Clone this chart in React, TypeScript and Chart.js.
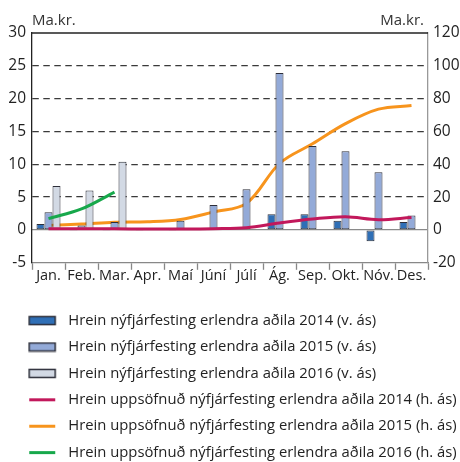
import React, { useEffect, useRef } from "react";
import { Chart, registerables } from "chart.js";

Chart.register(...registerables);

const months = ["Jan.", "Feb.", "Mar.", "Apr.", "Maí", "Júní", "Júlí", "Ág.", "Sep.", "Okt.", "Nóv.", "Des."];
const net2014 = [0.9, -0.1, -0.1, -0.1, -0.1, 0.1, 0.3, 2.4, 2.4, 1.4, -1.7, 1.2];
const net2015 = [2.7, 0.7, 1.2, 0.2, 1.4, 3.8, 6.2, 23.9, 12.8, 12.0, 8.8, 2.2];
const net2016 = [6.7, 6.0, 10.4, null, null, null, null, null, null, null, null, null];
const cum2014 = [0.8, 0.8, 0.7, 0.6, 0.6, 0.8, 1.4, 4.3, 6.7, 8.1, 6.3, 7.6];
const cum2015 = [2.8, 3.6, 4.7, 5.0, 6.4, 11.0, 16.2, 40.5, 52.5, 64.8, 73.6, 75.8];
const cum2016 = [6.9, 12.8, 23.1, null, null, null, null, null, null, null, null, null];
const leftTicks = { min: -5, max: 30, step: 5 };
const rightTicks = { min: -20, max: 120, step: 20 };
const unitLabel = "Ma.kr.";
const labels = [
  "Hrein nýfjárfesting erlendra aðila 2014 (v. ás)",
  "Hrein nýfjárfesting erlendra aðila 2015 (v. ás)",
  "Hrein nýfjárfesting erlendra aðila 2016 (v. ás)",
  "Hrein uppsöfnuð nýfjárfesting erlendra aðila 2014 (h. ás)",
  "Hrein uppsöfnuð nýfjárfesting erlendra aðila 2015 (h. ás)",
  "Hrein uppsöfnuð nýfjárfesting erlendra aðila 2016 (h. ás)",
];

const FONT = "'Open Sans', sans-serif";
const TEXT = "#222";
const BAR_BORDER = "#2d2f3a";

function makeIcon(kind: "bar" | "line", color: string): HTMLCanvasElement {
  const c = document.createElement("canvas");
  c.width = 50;
  c.height = 11;
  const g = c.getContext("2d")!;
  if (kind === "bar") {
    g.fillStyle = color;
    g.fillRect(18, 1.5, 26, 8);
    g.strokeStyle = BAR_BORDER;
    g.lineWidth = 1.5;
    g.strokeRect(18, 1.5, 26, 8);
  } else {
    g.strokeStyle = color;
    g.lineWidth = 3;
    g.beginPath();
    g.moveTo(18, 5.5);
    g.lineTo(44, 5.5);
    g.stroke();
  }
  return c;
}

const framePlugin = {
  id: "frame",
  beforeDatasetsDraw(chart: any) {
    const { ctx, chartArea } = chart;
    ctx.save();
    ctx.strokeStyle = "#222";
    ctx.lineWidth = 1.3;
    ctx.beginPath();
    ctx.moveTo(chartArea.left, chartArea.top);
    ctx.lineTo(chartArea.right, chartArea.top);
    ctx.stroke();
    ctx.restore();
  },
  afterDraw(chart: any) {
    const { ctx, chartArea } = chart;
    ctx.save();
    ctx.font = `15px ${FONT}`;
    ctx.fillStyle = "#333";
    ctx.textBaseline = "middle";
    ctx.textAlign = "left";
    ctx.fillText(unitLabel, chartArea.left, 21);
    ctx.textAlign = "right";
    ctx.fillText(unitLabel, chartArea.right - 4, 21);
    ctx.restore();
  },
};

export default function App() {
  const ref = useRef<HTMLCanvasElement>(null);
  useEffect(() => {
    const barColors = ["#2f6fb6", "#93aad8", "#d2d9e4"];
    const lineColors = ["#c2185b", "#f7941d", "#17a84b"];
    const bar = (i: number, data: (number | null)[]) => ({
      type: "bar" as const,
      label: labels[i],
      data,
      backgroundColor: barColors[i],
      borderColor: BAR_BORDER,
      borderWidth: 1,
      borderSkipped: false,
      categoryPercentage: 0.727,
      barPercentage: 1.0,
      yAxisID: "y",
      order: 1,
    });
    const line = (i: number, data: (number | null)[], order: number) => ({
      type: "line" as const,
      label: labels[i + 3],
      data,
      borderColor: lineColors[i],
      backgroundColor: lineColors[i],
      borderWidth: 3,
      pointRadius: 0,
      tension: 0.35,
      fill: false,
      yAxisID: "y1",
      order,
    });
    const icons = [
      makeIcon("bar", barColors[0]),
      makeIcon("bar", barColors[1]),
      makeIcon("bar", barColors[2]),
      makeIcon("line", lineColors[0]),
      makeIcon("line", lineColors[1]),
      makeIcon("line", lineColors[2]),
    ];
    const chart = new Chart(ref.current!, {
      data: {
        labels: months,
        datasets: [
          bar(0, net2014),
          bar(1, net2015),
          bar(2, net2016),
          line(0, cum2014, 0),
          line(1, cum2015, 2),
          line(2, cum2016, 0),
        ] as any,
      },
      options: {
        responsive: false,
        animation: false,
        devicePixelRatio: 1,
        layout: { padding: { top: 33, left: 0, right: 0, bottom: 0 } },
        plugins: {
          tooltip: { enabled: false },
          legend: {
            position: "bottom",
            align: "start",
            labels: {
              usePointStyle: true,
              pointStyleWidth: 49.3,
              boxHeight: 11,
              padding: 11.6,
              color: TEXT,
              font: { family: FONT, size: 14.8 },
              generateLabels: (ch: any) =>
                ch.data.datasets.map((ds: any, i: number) => ({
                  text: ds.label,
                  pointStyle: icons[i],
                  fillStyle: "transparent",
                  strokeStyle: "transparent",
                  lineWidth: 0,
                  hidden: false,
                  datasetIndex: i,
                  fontColor: TEXT,
                })),
            },
          },
        },
        scales: {
          x: {
            offset: true,
            grid: {
              offset: true,
              drawOnChartArea: false,
              drawTicks: true,
              tickLength: 7,
              tickColor: "#888",
              tickWidth: 1.3,
            },
            border: { color: "#888", width: 1.3 },
            ticks: { color: TEXT, font: { family: FONT, size: 14.5 }, padding: -3, maxRotation: 0, autoSkip: false },
            afterFit: (s: any) => {
              s.height = 38.8;
            },
          },
          y: {
            position: "left",
            min: leftTicks.min,
            max: leftTicks.max,
            ticks: { stepSize: leftTicks.step, color: TEXT, font: { family: FONT, size: 15.5 }, padding: 6 },
            grid: {
              drawTicks: false,
              lineWidth: 1.3,
              color: (c: any) => {
                const v = c.tick ? c.tick.value : null;
                return v !== null && v > leftTicks.min && v < leftTicks.max && v !== 0 ? "#3a3a3a" : "rgba(0,0,0,0)";
              },
            },
            border: { color: "#222", width: 1.3, dash: [6.5, 4.5] },
            afterFit: (s: any) => {
              s.width = 32;
            },
          },
          y1: {
            position: "right",
            min: rightTicks.min,
            max: rightTicks.max,
            ticks: { stepSize: rightTicks.step, color: TEXT, font: { family: FONT, size: 15.5 }, padding: 5 },
            grid: {
              drawTicks: false,
              lineWidth: 1.3,
              color: (c: any) => (c.tick && c.tick.value === 0 ? "#8a8a8a" : "rgba(0,0,0,0)"),
            },
            border: { color: "#999", width: 1.3 },
            afterFit: (s: any) => {
              s.width = 32;
            },
          },
        },
      },
      plugins: [framePlugin],
    });
    return () => chart.destroy();
  }, []);
  return (
    <div style={{ position: "absolute", left: 0, top: 0, width: 460, height: 462, overflow: "hidden", background: "#fff" }}>
      <canvas ref={ref} width={460} height={470} style={{ display: "block" }} />
    </div>
  );
}
